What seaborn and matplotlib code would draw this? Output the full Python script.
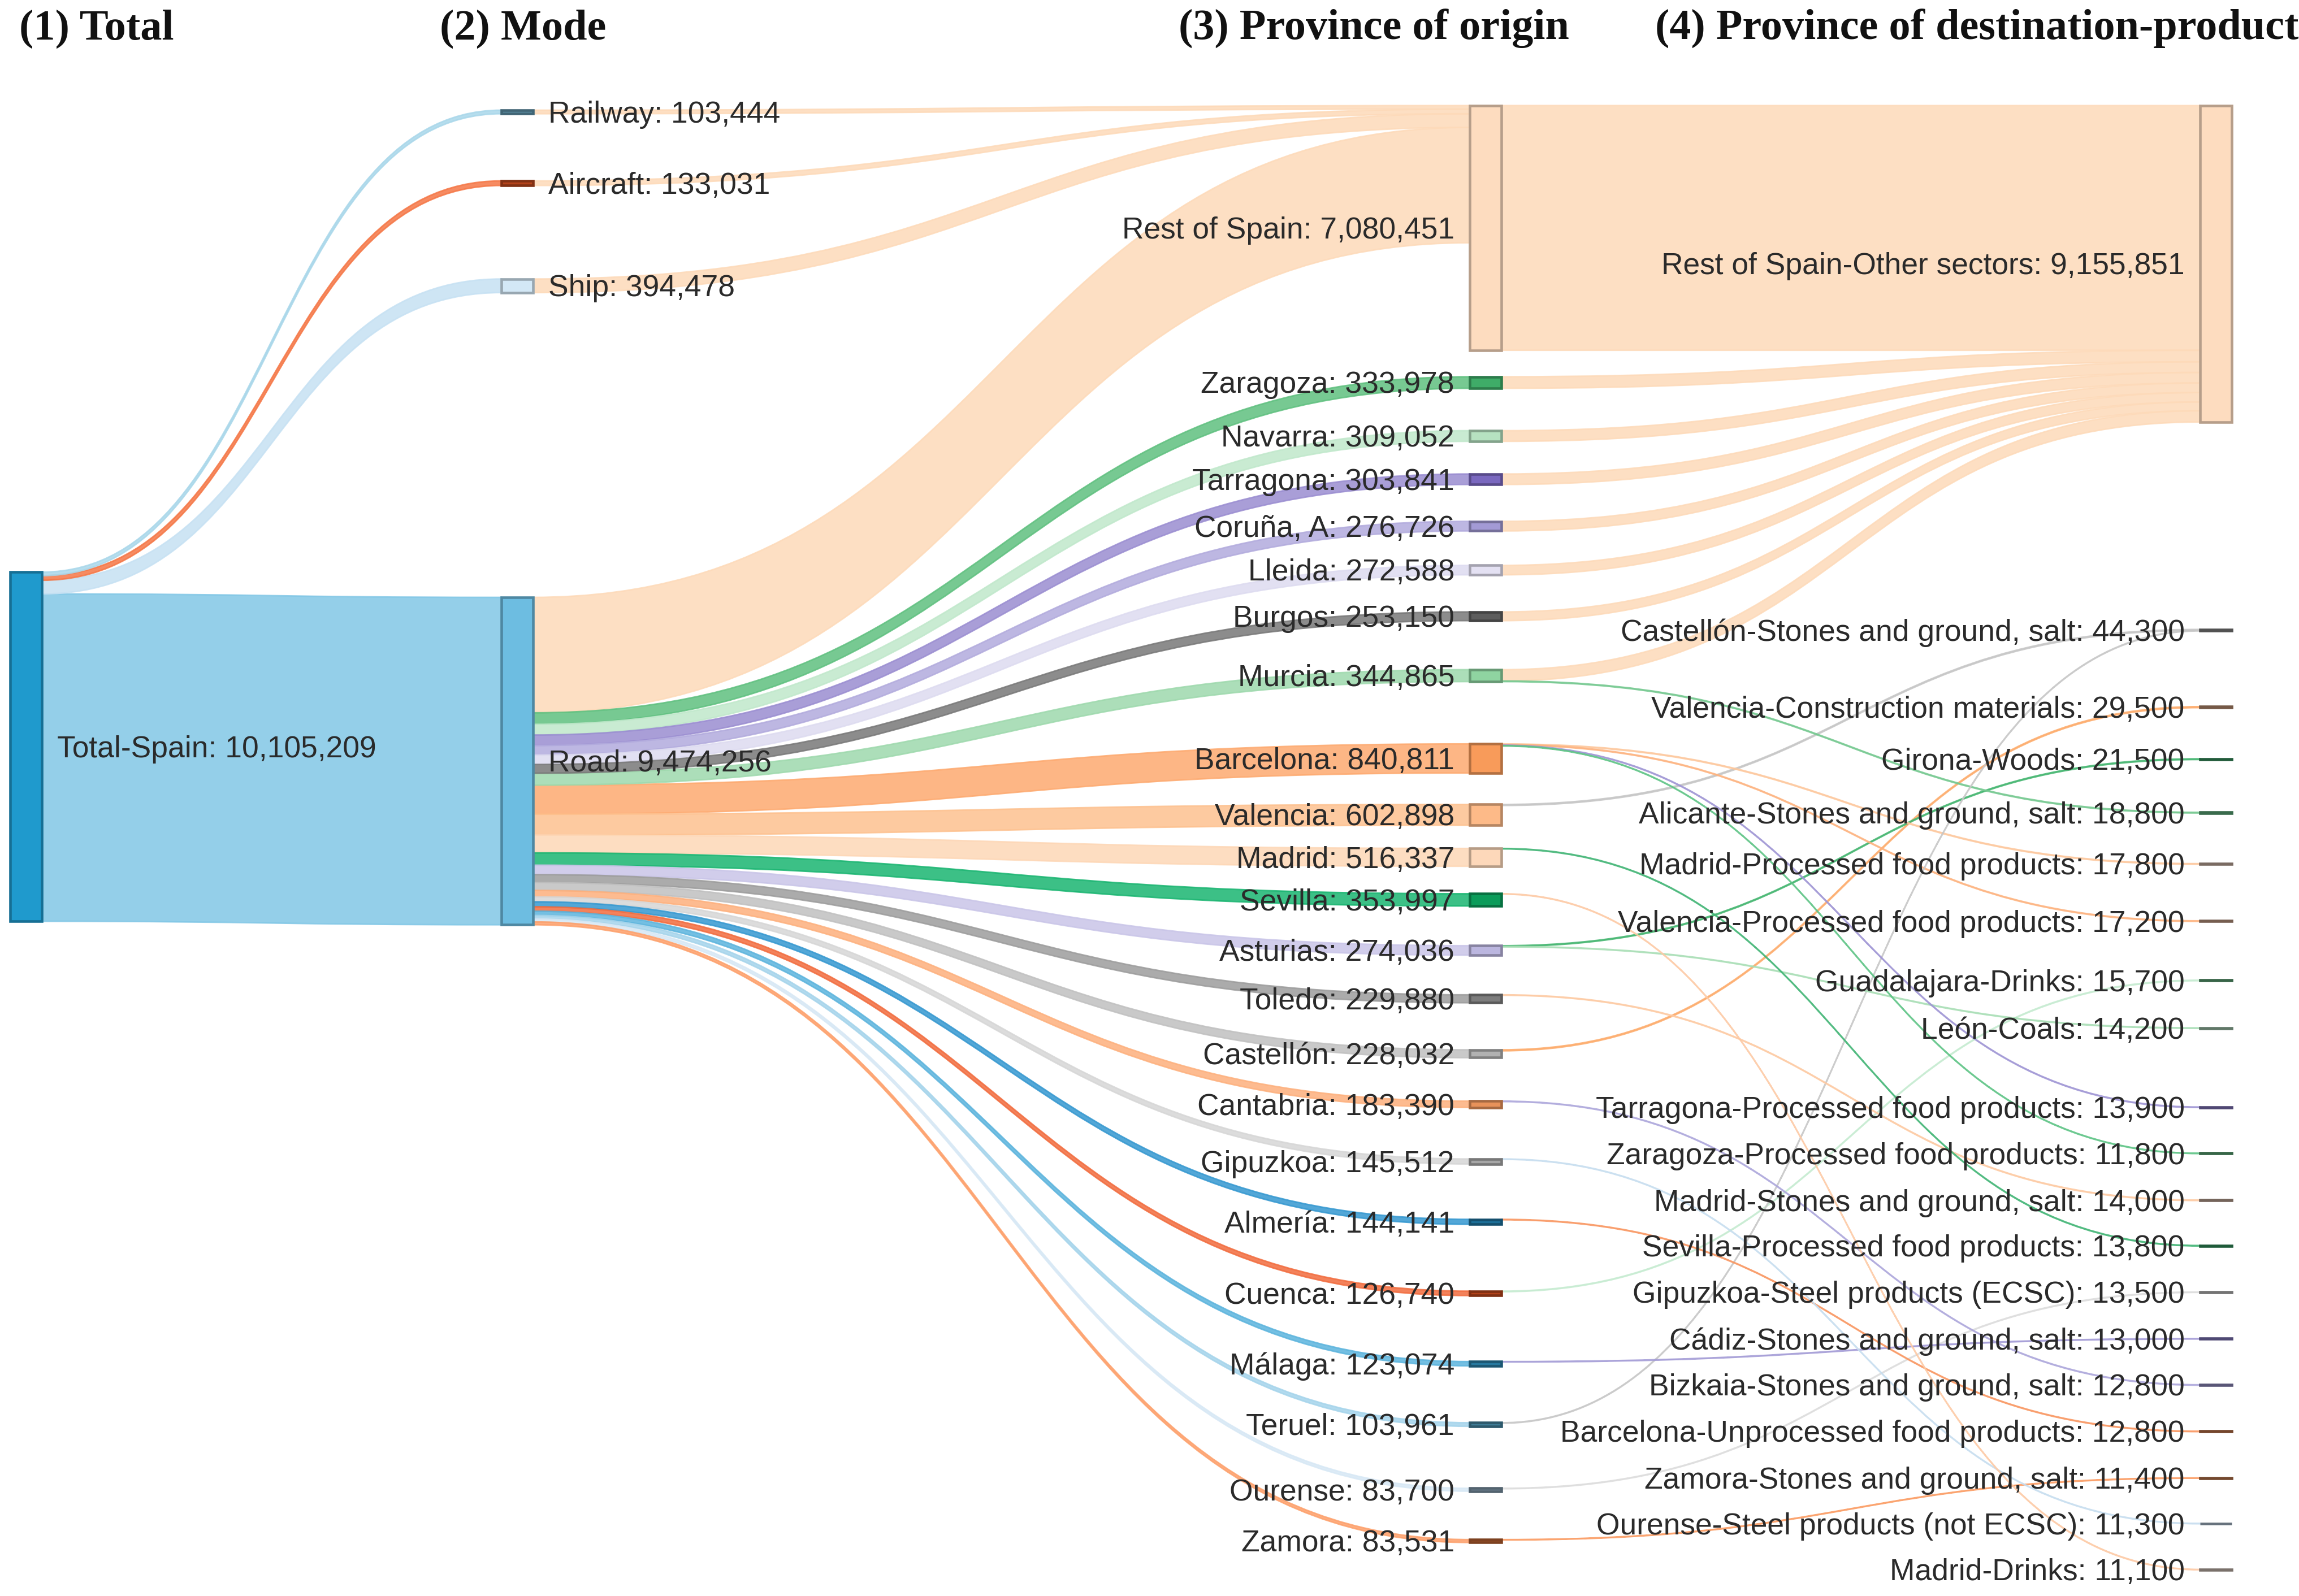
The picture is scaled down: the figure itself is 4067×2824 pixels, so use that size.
import matplotlib
matplotlib.use("Agg")
import matplotlib.pyplot as plt
import matplotlib.colors as mcolors
from matplotlib.path import Path
from matplotlib.patches import PathPatch, Rectangle
import seaborn as sns

sns.set_theme(style="white")
plt.rcParams['font.family'] = ['Liberation Sans', 'DejaVu Sans']

# ---------------- data ----------------

total_name = "Total-Spain"
total_value = 10105209

modes = ["Railway", "Aircraft", "Ship", "Road"]
mode_values = [103444, 133031, 394478, 9474256]

origins = ["Rest of Spain", "Zaragoza", "Navarra", "Tarragona", "Coruña, A", "Lleida", "Burgos",
           "Murcia", "Barcelona", "Valencia", "Madrid", "Sevilla", "Asturias", "Toledo",
           "Castellón", "Cantabria", "Gipuzkoa", "Almería", "Cuenca", "Málaga", "Teruel",
           "Ourense", "Zamora"]
origin_values = [7080451, 333978, 309052, 303841, 276726, 272588, 253150,
                 344865, 840811, 602898, 516337, 353997, 274036, 229880,
                 228032, 183390, 145512, 144141, 126740, 123074, 103961,
                 83700, 83531]

dests = ["Rest of Spain-Other sectors", "Castellón-Stones and ground, salt",
         "Valencia-Construction materials", "Girona-Woods", "Alicante-Stones and ground, salt",
         "Madrid-Processed food products", "Valencia-Processed food products",
         "Guadalajara-Drinks", "León-Coals", "Tarragona-Processed food products",
         "Zaragoza-Processed food products", "Madrid-Stones and ground, salt",
         "Sevilla-Processed food products", "Gipuzkoa-Steel products (ECSC)",
         "Cádiz-Stones and ground, salt", "Bizkaia-Stones and ground, salt",
         "Barcelona-Unprocessed food products", "Zamora-Stones and ground, salt",
         "Ourense-Steel products (not ECSC)", "Madrid-Drinks"]
dest_values = [9155851, 44300, 29500, 21500, 18800, 17800, 17200, 15700, 14200, 13900,
               11800, 14000, 13800, 13500, 13000, 12800, 12800, 11400, 11300, 11100]

# flows mode -> province of origin (road carries every named province)
road_to_rest = 3340016
mode_to_rest = [103444, 133031, 394478, road_to_rest]

# flows province of origin -> destination-product
origin_dest_links = [
    ("Rest of Spain", "Rest of Spain-Other sectors", 7080451),
    ("Zaragoza", "Rest of Spain-Other sectors", 333978),
    ("Navarra", "Rest of Spain-Other sectors", 309052),
    ("Tarragona", "Rest of Spain-Other sectors", 303841),
    ("Coruña, A", "Rest of Spain-Other sectors", 276726),
    ("Lleida", "Rest of Spain-Other sectors", 272588),
    ("Burgos", "Rest of Spain-Other sectors", 253150),
    ("Murcia", "Rest of Spain-Other sectors", 326065),
    ("Murcia", "Alicante-Stones and ground, salt", 18800),
    ("Valencia", "Castellón-Stones and ground, salt", 29900),
    ("Teruel", "Castellón-Stones and ground, salt", 14400),
    ("Castellón", "Valencia-Construction materials", 29500),
    ("Asturias", "Girona-Woods", 21500),
    ("Asturias", "León-Coals", 14200),
    ("Barcelona", "Madrid-Processed food products", 17800),
    ("Barcelona", "Valencia-Processed food products", 17200),
    ("Barcelona", "Tarragona-Processed food products", 13900),
    ("Barcelona", "Zaragoza-Processed food products", 11800),
    ("Cuenca", "Guadalajara-Drinks", 15700),
    ("Toledo", "Madrid-Stones and ground, salt", 14000),
    ("Madrid", "Sevilla-Processed food products", 13800),
    ("Ourense", "Gipuzkoa-Steel products (ECSC)", 13500),
    ("Málaga", "Cádiz-Stones and ground, salt", 13000),
    ("Cantabria", "Bizkaia-Stones and ground, salt", 12800),
    ("Almería", "Barcelona-Unprocessed food products", 12800),
    ("Zamora", "Zamora-Stones and ground, salt", 11400),
    ("Gipuzkoa", "Ourense-Steel products (not ECSC)", 11300),
    ("Sevilla", "Madrid-Drinks", 11100),
]

headers = ["(1) Total", "(2) Mode", "(3) Province of origin", "(4) Province of destination-product"]

# ---------------- layout (plotly-like node.x / node.y on a 1568 x 1089 grid) ----------------

GRID_W, GRID_H = 1568, 1089
TONNES_PER_PX = 42410            # vertical value scale
Y_MAX = GRID_H * TONNES_PER_PX
col_left = [7, 342, 1002.5, 1500.5]
node_w = 21.5
label_gap = 10.5
header_x = [13, 300, 804, 1129]

total_y = 509.5
mode_y = [76.4, 125, 195, 519.3]
origin_y = [155.5, 261, 297.5, 327, 359, 389, 420.5, 461, 517.5, 556, 585, 614, 648.5,
            681.5, 719, 753.5, 792.5, 833.7, 882.5, 930.5, 972, 1016.5, 1051.5]
dest_y = [180, 430, 482.5, 518, 554.5, 589.5, 628.5, 669, 701.5, 755.5, 787, 819, 850,
          881.7, 913.5, 945, 976.7, 1008.5, 1039.6, 1071]

# ---------------- styles ----------------

total_color = ("#1f9acd", "#7fc6e5")
mode_colors = [("#5a8ca3", "#a9d7ea"), ("#b4441c", "#f57746"),
               ("#d3e8f6", "#c6e1f3"), ("#6dbde1", "#82c7e6")]
origin_colors = [("#fddcbf", "#fddab9"), ("#3fac68", "#5fc07f"), ("#b6e2c1", "#c0e8cb"),
                 ("#7a68bf", "#9a8dd1"), ("#a39ad5", "#b2abdd"), ("#e4e1f3", "#dddbf0"),
                 ("#5e5e5e", "#787878"), ("#8fd4a1", "#9ed9ad"), ("#f89b5a", "#fdaa70"),
                 ("#fdba88", "#fdc18f"), ("#fdd8ba", "#fdd7b6"), ("#0b9c5a", "#1ab571"),
                 ("#bbb6df", "#c9c5e8"), ("#7d7d7d", "#9c9c9c"), ("#b2b2b2", "#c0c0c0"),
                 ("#e8925a", "#fdb07d"), ("#a6a6a6", "#d6d6d6"), ("#1c6e97", "#3598d0"),
                 ("#b2431b", "#f26c3e"), ("#27799f", "#5cb4dd"), ("#3f7c96", "#a5d4eb"),
                 ("#73899a", "#d7e8f5"), ("#ae5a2c", "#fda06b")]
dest_colors = [("#fddcbf", "#fddab9"), ("#727272", "#c6c6c6"), ("#a27b62", "#fdac6c"),
               ("#2e7e51", "#43b56f"), ("#4f9569", "#74c88f"), ("#a99588", "#fdc79c"),
               ("#a4836f", "#fdb27e"), ("#4d8b63", "#c5ebd0"), ("#87a691", "#a8deb5"),
               ("#6f64a1", "#9e94d4"), ("#4b8d63", "#5cc384"), ("#a18b7d", "#fdc9a1"),
               ("#2b7e51", "#40b474"), ("#a1a1a1", "#dcdcdc"), ("#6e65a1", "#a39bd6"),
               ("#7c77a4", "#aca6db"), ("#a1613d", "#f9955f"), ("#a16541", "#fb9a60"),
               ("#8f9fad", "#c6ddef"), ("#a99d95", "#fdc9a4")]

text_color = "#2a2a2a"
label_size = 12.8

# ---------------- build nodes and links ----------------

nodes = {}


def add_node(name, col, value, y_px, colors):
    nodes[name] = dict(col=col, value=value, yc=y_px * TONNES_PER_PX,
                       fill=colors[0], link=colors[1])


add_node(total_name, 0, total_value, total_y, total_color)
for n, v, y, c in zip(modes, mode_values, mode_y, mode_colors):
    add_node(n, 1, v, y, c)
for n, v, y, c in zip(origins, origin_values, origin_y, origin_colors):
    add_node(n, 2, v, y, c)
for n, v, y, c in zip(dests, dest_values, dest_y, dest_colors):
    add_node(n, 3, v, y, c)

links = [(total_name, m, v) for m, v in zip(modes, mode_values)]
links += [(m, "Rest of Spain", v) for m, v in zip(modes, mode_to_rest)]
links += [("Road", o, v) for o, v in zip(origins[1:], origin_values[1:])]
links += origin_dest_links

# stack links at each node, ordered by the position of the other end
for nd in nodes.values():
    nd["out"] = nd["in"] = nd["yc"] - nd["value"] / 2
pos = {}
for i, (s, t, v) in sorted(enumerate(links), key=lambda e: nodes[e[1][1]]["yc"]):
    pos.setdefault(i, {})["s"] = nodes[s]["out"]
    nodes[s]["out"] += v
for i, (s, t, v) in sorted(enumerate(links), key=lambda e: nodes[e[1][0]]["yc"]):
    pos[i]["t"] = nodes[t]["in"]
    nodes[t]["in"] += v

# ---------------- draw ----------------

fig = plt.figure(figsize=(4067 / 300, 2824 / 300), dpi=300)
ax = fig.add_axes([0, 0, 1, 1])
ax.set_xlim(0, GRID_W)
ax.set_ylim(Y_MAX, 0)
ax.axis("off")

order = sorted(range(len(links)), key=lambda i: -links[i][2])
for i in order:
    s, t, v = links[i]
    x0 = col_left[nodes[s]["col"]] + node_w
    x1 = col_left[nodes[t]["col"]]
    xm = (x0 + x1) / 2
    ys, yt = pos[i]["s"], pos[i]["t"]
    verts = [(x0, ys), (xm, ys), (xm, yt), (x1, yt),
             (x1, yt + v), (xm, yt + v), (xm, ys + v), (x0, ys + v), (x0, ys)]
    codes = [Path.MOVETO, Path.CURVE4, Path.CURVE4, Path.CURVE4,
             Path.LINETO, Path.CURVE4, Path.CURVE4, Path.CURVE4, Path.CLOSEPOLY]
    c = mcolors.to_rgba(nodes[t]["link"], 0.85)
    ax.add_patch(PathPatch(Path(verts, codes), facecolor=c, edgecolor=c, lw=0.65, zorder=1))

baseline_shift = 7.2 * TONNES_PER_PX
for name, nd in nodes.items():
    x = col_left[nd["col"]]
    top = nd["yc"] - nd["value"] / 2
    edge = tuple(min(1, ch * 0.72) for ch in mcolors.to_rgb(nd["fill"]))
    ax.add_patch(Rectangle((x, top), node_w, nd["value"], facecolor=nd["fill"],
                           edgecolor=edge, lw=1.1, zorder=3))
    text = f"{name}: {nd['value']:,}"
    if nd["col"] < 2:
        ax.text(x + node_w + label_gap, nd["yc"] + baseline_shift, text, ha="left",
                va="baseline", fontsize=label_size, color=text_color, zorder=4)
    else:
        ax.text(x - label_gap, nd["yc"] + baseline_shift, text, ha="right",
                va="baseline", fontsize=label_size, color=text_color, zorder=4)

for hx, h in zip(header_x, headers):
    ax.text(hx, 27 * TONNES_PER_PX, h, ha="left", va="baseline", fontsize=18.3,
            fontweight="bold", family=["Liberation Serif", "DejaVu Serif"], color="#111111")

fig.savefig("out.png", dpi=300, facecolor="white")
